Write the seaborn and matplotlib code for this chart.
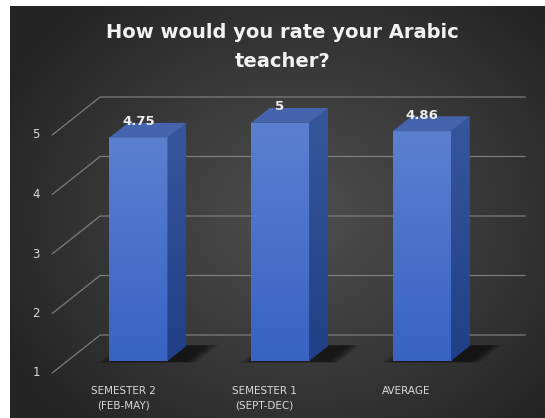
import numpy as np
import pandas as pd
import matplotlib
matplotlib.use("Agg")
import matplotlib.pyplot as plt
import seaborn as sns
from matplotlib.patches import Polygon
from matplotlib.colors import to_rgb

# -------------------------
# data
# -------------------------
categories = ["SEMESTER 2\n(FEB-MAY)", "SEMESTER 1\n(SEPT-DEC)", "AVERAGE"]
ratings = [4.75, 5, 4.86]
rating_labels = ["4.75", "5", "4.86"]
y_ticks = [1, 2, 3, 4, 5]
title = "How would you rate your Arabic\nteacher?"

df = pd.DataFrame({"period": categories, "rating": ratings})

sns.set_style("white")
plt.rcParams["font.family"] = ["DejaVu Sans"]

# fake 3D: depth vector (data units) and bar depth range
DX, DY = 0.3387, 0.6387
T0, T1 = 0.32, 0.71
BAR_W = 0.41
BASE = 1


def pt(c, v, t):
    return (c + t * DX, v + t * DY)


fig = plt.figure(figsize=(5.45, 4.18), dpi=100)
fig.patch.set_facecolor("white")

# background: radial grey gradient
bg = fig.add_axes([10 / 545, 0, 535 / 545, 412 / 418])
yy, xx = np.mgrid[0:412, 0:535]
r = np.sqrt(((xx - 290) / 330.0) ** 2 + ((yy - 210) / 280.0) ** 2)
r = np.clip(r, 0, 1)
c_in = np.array(to_rgb("#4f4f4f"))
c_out = np.array(to_rgb("#252525"))
img = c_in[None, None, :] * (1 - r[..., None]) + c_out[None, None, :] * r[..., None]
bg.imshow(img, aspect="auto", extent=[0, 1, 0, 1])
bg.axis("off")

# main axes
ax = fig.add_axes([25 / 545, (418 - 385) / 418, 510 / 545, 305 / 418])
ax.patch.set_alpha(0)
xlim = ((25 - 123) / 141.7, (535 - 123) / 141.7)
ylim = (1 + (373 - 385) / 59.5, 1 + (373 - 80) / 59.5)

sns.barplot(data=df, x="period", y="rating", width=BAR_W, color="#4472c4",
            saturation=1, ax=ax, zorder=4, linewidth=0)

# gridlines: left diagonal + back wall
for v in y_ticks:
    a, b, c = pt(-0.5, v, 0), pt(-0.5, v, 1), pt(len(categories) - 0.5, v, 1)
    ax.plot([a[0], b[0], c[0]], [a[1], b[1], c[1]], color="#7c7c7c", lw=0.9, zorder=1)
    ax.text(-0.614, v, str(v), color="#d9d9d9", fontsize=8.5, ha="center", va="center")


def grad_fill(poly, top, bottom, zorder):
    ext = poly.get_path().transformed(poly.get_patch_transform()).get_extents()
    g = np.linspace(0, 1, 64)[:, None, None]
    t_rgb = np.array(to_rgb(top))
    b_rgb = np.array(to_rgb(bottom))
    im = t_rgb * (1 - g) + b_rgb * g
    im = np.repeat(im, 2, axis=1)
    ax.imshow(im, extent=[ext.x0, ext.x1, ext.y0, ext.y1], aspect="auto",
              clip_path=poly, zorder=zorder, interpolation="bilinear")


for i, (p, val) in enumerate(zip(ax.patches, ratings)):
    c = i
    xl, xr = c - BAR_W / 2, c + BAR_W / 2
    p.set_x(xl + T0 * DX)
    p.set_y(BASE + T0 * DY)
    p.set_height(val - BASE)

    # soft floor shadow
    for k in range(8):
        g = 0.09 - k * 0.011
        sh = Polygon([pt(xl - g + 0.03, BASE, T0 - g * 0.6), pt(xr + g + 0.13, BASE, T0 - g * 0.6),
                      pt(xr + g + 0.13, BASE, T1 + g * 0.3), pt(xl - g + 0.03, BASE, T1 + g * 0.3)],
                     closed=True, facecolor="black", alpha=0.09, lw=0, zorder=2)
        ax.add_patch(sh)

    grad_fill(p, "#5b80d0", "#3763c3", 5)

    side = Polygon([pt(xr, BASE, T0), pt(xr, BASE, T1), pt(xr, val, T1), pt(xr, val, T0)],
                   closed=True, facecolor="#34559c", lw=0, zorder=4)
    ax.add_patch(side)
    grad_fill(side, "#36569e", "#213f86", 5)

    top = Polygon([pt(xl, val, T0), pt(xr, val, T0), pt(xr, val, T1), pt(xl, val, T1)],
                  closed=True, facecolor="#4564ad", lw=0, zorder=6)
    ax.add_patch(top)

    lx, ly = pt(c, val, T0)[0], pt(c, val, T1)[1]
    ax.text(lx, ly + 0.02, rating_labels[i], color="#ececec", fontsize=9.5,
            fontweight="bold", ha="center", va="center", zorder=7)

ax.set_xlim(xlim)
ax.set_ylim(ylim)
ax.set_xticks(range(len(categories)))
ax.set_xticklabels(categories, color="#d9d9d9", fontsize=7.5, linespacing=1.55)
ax.set_yticks([])
ax.set_xlabel("")
ax.set_ylabel("")
ax.tick_params(axis="x", length=0, pad=1)
for s in ax.spines.values():
    s.set_visible(False)

fig.text(0.518, 1 - 47 / 418, title, color="#f2f2f2", fontsize=14, fontweight="bold",
         ha="center", va="center", linespacing=1.7)

fig.savefig("out.png", dpi=100)
